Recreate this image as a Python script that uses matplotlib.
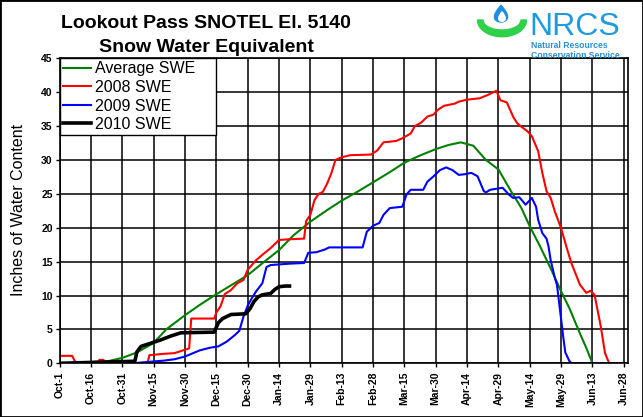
import numpy as np
import matplotlib
matplotlib.use("Agg")
import matplotlib.pyplot as plt
from matplotlib.patches import Polygon, Rectangle

# day offsets counted from Oct-1
avg_days = [16, 23, 30, 37, 45, 51, 60, 67, 74, 82,
            90, 98, 105, 112, 120, 128, 135, 143, 150, 158,
            165, 172, 180, 186, 192, 198, 204, 210, 216, 221,
            225, 230, 235, 240, 244, 249, 252, 255]
avg_swe = [0.2, 0.3, 0.8, 1.6, 3.0, 5.0, 7.1, 8.6, 10.0, 11.5,
           13.0, 15.0, 16.7, 18.9, 20.9, 22.6, 24.0, 25.4, 26.7, 28.2,
           29.6, 30.6, 31.6, 32.2, 32.6, 32.1, 30.0, 28.6, 25.4, 22.9,
           20.2, 17.2, 14.0, 10.6, 8.1, 4.4, 2.3, 0.0]

days_2008 = [0, 6, 7, 8, 18, 19, 21, 22, 42, 43,
             50, 55, 57, 62, 63, 74, 75, 77, 79, 82,
             85, 88, 90, 94, 97, 101, 105, 110, 117, 118,
             120, 122, 124, 126, 128, 130, 132, 135, 139, 149,
             152, 155, 161, 164, 168, 170, 173, 176, 179, 181,
             184, 189, 191, 195, 201, 205, 209, 211, 214, 217,
             219, 221, 224, 226, 229, 231, 233, 235, 237, 240,
             243, 245, 249, 252, 254, 256, 259, 261, 263, 272]
swe_2008 = [1.1, 1.1, 0.5, 0.0, 0.0, 0.5, 0.5, 0.0, 0.0, 1.2,
            1.4, 1.5, 1.7, 2.2, 6.6, 6.6, 7.5, 8.4, 10.2, 10.8,
            11.8, 12.3, 13.8, 15.2, 16.0, 17.0, 18.2, 18.3, 18.4, 21.0,
            21.9, 24.1, 25.0, 25.3, 26.5, 28.0, 30.0, 30.4, 30.7, 30.8,
            31.4, 32.6, 32.8, 33.2, 33.9, 35.0, 35.5, 36.4, 36.7, 37.4,
            38.0, 38.3, 38.6, 38.9, 39.1, 39.6, 40.2, 38.8, 38.5, 36.4,
            35.4, 34.9, 34.2, 33.5, 31.3, 28.1, 25.4, 24.4, 22.4, 19.9,
            16.7, 14.7, 11.6, 10.4, 10.7, 10.1, 5.4, 1.5, 0.0, 0.0]

days_2009 = [0, 35, 42, 50, 55, 60, 67, 72, 76, 80,
             84, 86, 88, 90, 92, 94, 97, 99, 101, 110,
             117, 119, 123, 127, 129, 145, 147, 150, 153, 155,
             158, 164, 166, 168, 174, 176, 179, 182, 185, 188,
             191, 194, 197, 200, 203, 204, 206, 212, 215, 217,
             220, 223, 226, 228, 229, 231, 233, 234, 235, 237,
             238, 240, 241, 242, 244, 245, 272]
swe_2009 = [0.0, 0.0, 0.2, 0.4, 0.6, 1.0, 1.9, 2.3, 2.5, 3.2,
            4.2, 4.8, 6.9, 8.5, 9.6, 10.6, 11.8, 14.2, 14.5, 14.7,
            14.8, 16.3, 16.4, 16.8, 17.1, 17.1, 19.4, 20.3, 20.7, 21.9,
            22.9, 23.1, 24.9, 25.6, 25.6, 26.8, 27.6, 28.5, 28.9, 28.5,
            27.8, 27.9, 28.1, 27.6, 25.4, 25.2, 25.6, 25.9, 24.9, 24.4,
            24.5, 23.4, 24.4, 23.1, 21.2, 19.2, 18.4, 17.2, 15.2, 12.6,
            11.6, 6.5, 3.9, 1.6, 0.3, 0.0, 0.0]

days_2010 = [0, 36, 37, 39, 43, 48, 53, 58, 74, 76,
             78, 82, 89, 91, 93, 95, 97, 101, 103, 105,
             108, 110]
swe_2010 = [0.0, 0.3, 1.7, 2.5, 2.9, 3.4, 4.0, 4.5, 4.6, 6.0,
            6.6, 7.2, 7.3, 8.0, 9.1, 9.8, 10.1, 10.3, 10.9, 11.3,
            11.4, 11.4]

tick_days = list(range(0, 271, 15))
tick_labels = ["Oct-1", "Oct-16", "Oct-31", "Nov-15", "Nov-30", "Dec-15",
               "Dec-30", "Jan-14", "Jan-29", "Feb-13", "Feb-28", "Mar-15",
               "Mar-30", "Apr-14", "Apr-29", "May-14", "May-29", "Jun-13",
               "Jun-28"]

plt.rcParams["font.family"] = ["Liberation Sans", "DejaVu Sans"]

W, H = 643, 417
fig = plt.figure(figsize=(W / 100, H / 100), dpi=100)
ax = fig.add_axes([59.6 / W, 1 - 363.3 / H, (628 - 59.6) / W, (363.3 - 58.3) / H])

ax.plot(avg_days, avg_swe, color="#008000", lw=1.5, label="Average SWE")
ax.plot(days_2008, swe_2008, color="#ff0000", lw=1.5, label="2008 SWE")
ax.plot(days_2009, swe_2009, color="#0000ff", lw=1.5, label="2009 SWE")
ax.plot(days_2010, swe_2010, color="black", lw=2.6, label="2010 SWE")

ax.set_xlim(0, 272)
ax.set_ylim(0, 45)
ax.set_xticks(tick_days)
ax.set_xticklabels(tick_labels, rotation=90, fontsize=7.5, fontweight="bold")
ax.set_yticks(range(0, 46, 5))
ax.tick_params(axis="y", labelsize=7.5, length=3, width=1, pad=2)
for t in ax.get_yticklabels():
    t.set_fontweight("bold")
ax.tick_params(axis="x", length=3, width=1, pad=3)
ax.grid(True, color="black", lw=1.1)
ax.set_axisbelow(True)
for s in ax.spines.values():
    s.set_linewidth(1.2)

leg = ax.legend(loc="upper left", bbox_to_anchor=(0, 1, 156 / 568.4, 0), mode="expand",
                borderaxespad=0, fontsize=11.5, handlelength=1.75, handletextpad=0.25,
                labelspacing=0.22, borderpad=0.2, fancybox=False, framealpha=1)
leg.get_frame().set_edgecolor("black")
leg.get_frame().set_linewidth(1.0)

fig.text(19 / W, 1 - 210 / H, "Inches of Water Content", rotation=90,
         ha="center", va="center", fontsize=11.5)
fig.text(206 / W, 1 - 28 / H, "Lookout Pass SNOTEL El. 5140", ha="center",
         va="baseline", fontsize=14, fontweight="bold")
fig.text(206 / W, 1 - 52 / H, "Snow Water Equivalent", ha="center",
         va="baseline", fontsize=14, fontweight="bold")

# NRCS logo
lg = fig.add_axes([470 / W, 1 - 40 / H, 60 / W, 40 / H])
lg.set_xlim(470, 530)
lg.set_ylim(40, 0)
lg.axis("off")
t = np.linspace(0, 2 * np.pi, 200)
dx = 501 + 9 * np.sin(t) * np.sin(t / 2) ** 1.3
dy = 13.5 - 8.5 * np.cos(t)
lg.add_patch(Polygon(np.column_stack([dx, dy]), closed=True, color="#1d8fdc"))
ix = 502 + 4.5 * np.sin(t) * np.sin(t / 2) ** 1.3
iy = 16.5 - 4.8 * np.cos(t)
lg.add_patch(Polygon(np.column_stack([ix, iy]), closed=True, color="white"))
a = np.linspace(0, np.pi, 100)
outer = np.column_stack([502 + 24.5 * np.cos(a), 20 + 16.7 * np.sin(a)])
inner = np.column_stack([502 + 19 * np.cos(a[::-1]), 20 + 10 * np.sin(a[::-1])])
lg.add_patch(Polygon(np.vstack([outer, inner]), closed=True, color="#2fd04a"))

fig.text(529 / W, 1 - 35 / H, "NRCS", fontsize=23, color="#1e9be0",
         ha="left", va="baseline")
fig.text(531 / W, 1 - 48.5 / H, "Natural Resources", fontsize=6.2,
         fontweight="bold", color="#2a8fd6", ha="left", va="baseline")
fig.text(531 / W, 1 - 57.5 / H, "Conservation Service", fontsize=6.2,
         fontweight="bold", color="#2a8fd6", ha="left", va="baseline")

fig.add_artist(Rectangle((0, 0), 1, 1, transform=fig.transFigure, fill=False,
                         edgecolor="black", lw=2))

fig.savefig("out.png", dpi=100)
